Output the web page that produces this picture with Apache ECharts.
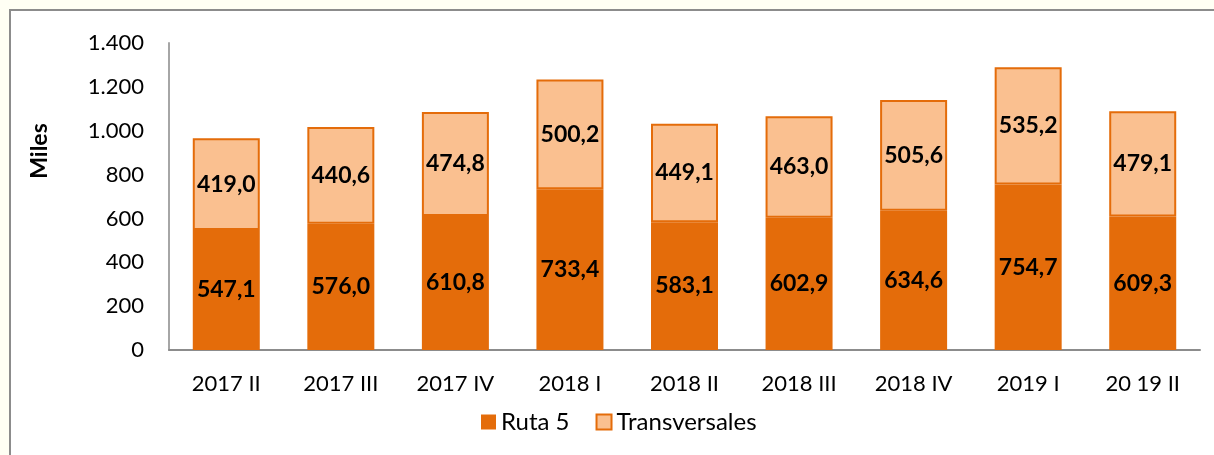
<!DOCTYPE html>
<html>
<head>
<meta charset="utf-8">
<script src="https://cdn.jsdelivr.net/npm/echarts@6/dist/echarts.min.js"></script>
<style>
  html, body { margin: 0; padding: 0; background: #fffff4; overflow: hidden; }
  #frame {
    position: absolute; left: 9px; top: 9px; width: 1205px; height: 446px;
    background: #fff; border-left: 2px solid #8c8c8c; border-top: 2px solid #8c8c8c;
  }
  #chart { width: 1203px; height: 444px; }
</style>
</head>
<body>
<div id="frame"><div id="chart"></div></div>
<script>
const categories = ['2017 II', '2017 III', '2017 IV', '2018 I', '2018 II', '2018 III', '2018 IV', '2019 I', '20 19 II']
const ruta5 = [547.1, 576.0, 610.8, 733.4, 583.1, 602.9, 634.6, 754.7, 609.3]
const transversales = [419.0, 440.6, 474.8, 500.2, 449.1, 463.0, 505.6, 535.2, 479.1]
const yTicks = [0, 200, 400, 600, 800, 1000, 1200, 1400]

const dark = '#e46c0a'
const light = '#fac090'
const font = 'Lato'

const fmtDec = (v) => v.toFixed(1).replace('.', ',')
const fmtThousands = (v) => String(v).replace(/\B(?=(\d{3})+(?!\d))/g, '.')

const chart = echarts.init(document.getElementById('chart'))

chart.setOption({
  animation: false,
  textStyle: { fontFamily: font },
  grid: { left: 158, right: 14, top: 32, bottom: 105 },
  legend: {
    left: 470,
    top: 399,
    padding: 0,
    itemWidth: 15,
    itemHeight: 15,
    itemGap: 26,
    textStyle: { fontFamily: font, fontSize: 24, color: '#000' },
    data: [
      { name: 'Ruta 5', icon: 'rect' },
      { name: 'Transversales', icon: 'rect' },
    ],
  },
  graphic: [
    {
      type: 'text',
      x: 29,
      y: 140,
      rotation: Math.PI / 2,
      style: {
        text: 'Miles',
        font: 'bold 23px Lato',
        fill: '#000',
        align: 'center',
        verticalAlign: 'middle',
      },
    },
  ],
  xAxis: {
    type: 'category',
    data: categories,
    axisLine: { lineStyle: { color: '#8c8c8c', width: 2 } },
    axisTick: { show: false },
    axisLabel: { color: '#000', fontSize: 22, fontFamily: font, margin: 23 },
  },
  yAxis: {
    type: 'value',
    min: yTicks[0],
    max: yTicks[yTicks.length - 1],
    interval: 200,
    axisLine: { show: true, lineStyle: { color: '#a6a6a6', width: 2 } },
    axisTick: { show: false },
    splitLine: { show: false },
    axisLabel: {
      color: '#000',
      fontSize: 22,
      fontFamily: font,
      margin: 25,
      formatter: (v) => fmtThousands(v),
    },
  },
  series: [
    {
      name: 'Ruta 5',
      type: 'bar',
      stack: 'total',
      barWidth: 67,
      data: ruta5,
      itemStyle: { color: dark },
      label: {
        show: true,
        position: 'inside',
        color: '#000',
        fontWeight: 'bold',
        fontSize: 23,
        fontFamily: font,
        formatter: (p) => fmtDec(p.value),
      },
    },
    {
      name: 'Transversales',
      type: 'bar',
      stack: 'total',
      barWidth: 67,
      data: transversales,
      itemStyle: { color: light, borderColor: dark, borderWidth: 2 },
      label: {
        show: true,
        position: 'inside',
        color: '#000',
        fontWeight: 'bold',
        fontSize: 23,
        fontFamily: font,
        formatter: (p) => fmtDec(p.value),
      },
    },
  ],
})
</script>
</body>
</html>
